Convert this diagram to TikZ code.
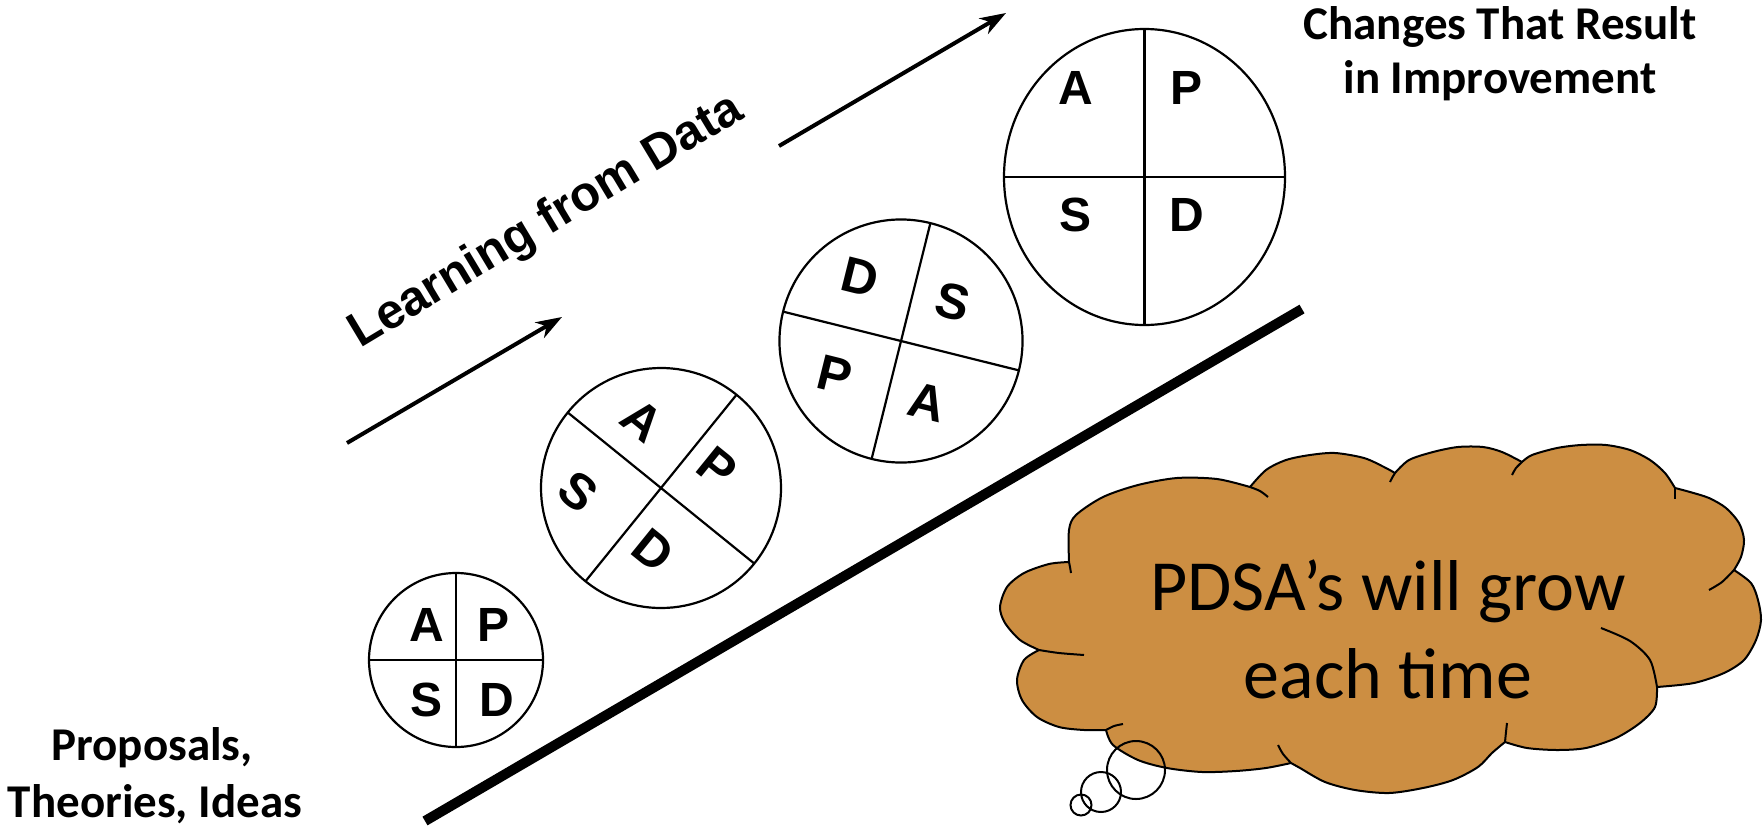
\documentclass[tikz,border=0pt]{standalone}
\usepackage{fontspec}
\setmainfont{Liberation Sans}
\newfontfamily\calfont{Carlito}
\usetikzlibrary{shapes.geometric,arrows.meta,calc}
\definecolor{cloudfill}{RGB}{204,142,66}
\begin{document}
\begin{tikzpicture}[x=1pt,y=-1pt,
  pdsa/.style={draw, circle, line width=2.2pt, inner sep=0pt, outer sep=0pt},
  cross/.style={line width=2.2pt},
  letter/.style={font=\fontsize{48}{48}\selectfont\bfseries, inner sep=0pt},
  bigletter/.style={font=\fontsize{50}{50}\selectfont\bfseries, inner sep=0pt},
  arr/.style={line width=4pt, -{Stealth[length=26pt,width=18pt,inset=8pt]}},
  lbl/.style={font=\calfont\bfseries\fontsize{47}{57}\selectfont, inner sep=0pt, anchor=base},
  cloudtext/.style={font=\calfont\fontsize{72}{88}\selectfont, inner sep=0pt, anchor=base},
  cloudline/.style={line width=2pt, line join=round},
  bubble/.style={draw, circle, line width=2pt, inner sep=0pt, outer sep=0pt}]
\useasboundingbox (0,0) rectangle (1763,833);

% circle 1
\node[pdsa, minimum size=174pt] (c1) at (456,660) {};
\draw[cross] (c1.north) -- (c1.south) (c1.west) -- (c1.east);
\node[letter] (c1a) at (427,625) {A};
\node[letter] (c1p) at (494,625) {P};
\node[letter] (c1s) at (427,700) {S};
\node[letter] (c1d) at (497,700) {D};

% circle 2
\node[pdsa, minimum size=240pt, rotate=-39] (c2) at (661,488) {};
\draw[cross] (c2.north) -- (c2.south) (c2.west) -- (c2.east);
\node[bigletter, rotate=-39] (c2a) at (642,420) {A};
\node[bigletter, rotate=-39] (c2p) at (717,468) {P};
\node[bigletter, rotate=-39] (c2s) at (578,492) {S};
\node[bigletter, rotate=-39] (c2d) at (653,550) {D};

% circle 3
\node[pdsa, minimum size=243pt, rotate=-14] (c3) at (901,341) {};
\draw[cross] (c3.north) -- (c3.south) (c3.west) -- (c3.east);
\node[bigletter, rotate=-14] (c3d) at (860,277) {D};
\node[bigletter, rotate=-14] (c3s) at (953,302) {S};
\node[bigletter, rotate=-14] (c3p) at (835,375) {P};
\node[bigletter, rotate=-14] (c3a) at (927,402) {A};

% circle 4
\node[draw, ellipse, line width=2.2pt, inner sep=0pt, outer sep=0pt, minimum width=281pt, minimum height=296pt] (c4) at (1144.5,177) {};
\draw[cross] (c4.north) -- (c4.south) (c4.west) -- (c4.east);
\node[letter] (c4a) at (1076,88) {A};
\node[letter] (c4p) at (1186,88) {P};
\node[letter] (c4s) at (1075,215) {S};
\node[letter] (c4d) at (1187,215) {D};

% thick base line
\coordinate (t1) at (425,821);
\coordinate (t2) at (1302,309);
\draw[line width=10pt] (t1) -- (t2);

% arrows
\coordinate (a1s) at (347,443);
\coordinate (a1e) at (562,317);
\coordinate (a2s) at (779,146);
\coordinate (a2e) at (1006,13);
\draw[arr] (a1s) -- (a1e);
\draw[arr] (a2s) -- (a2e);

\node[font=\fontsize{49}{49}\selectfont\bfseries, inner sep=0pt, anchor=base, rotate=31] (learn) at (553,233) {Learning from Data};

% labels
\node[lbl] (top1) at (1500,39) {Changes That Result};
\node[lbl] (top2) at (1500,93) {in Improvement};
\node[lbl] (bot1) at (152,760) {Proposals,};
\node[lbl] (bot2) at (155,817) {Theories, Ideas};

% cloud
\filldraw[fill=cloudfill, cloudline]
  plot[smooth] coordinates {(1069,562) (1069,530) (1076,515) (1103,497) (1138,485) (1177,478) (1217,479) (1250,487)}
  -- plot[smooth] coordinates {(1250,487) (1266,470) (1286,460) (1310,455) (1335,453) (1364,458) (1384,467) (1395,473)}
  -- plot[smooth] coordinates {(1395,473) (1409,460) (1433,452) (1458,447) (1483,447) (1502,452) (1522,462)}
  -- plot[smooth] coordinates {(1522,462) (1532,455) (1557,448) (1581,445) (1606,445) (1630,450) (1650,460) (1665,473) (1675,488)}
  -- plot[smooth] coordinates {(1675,488) (1690,492) (1709,498) (1726,508) (1739,523) (1744,540) (1741,557) (1734,570)}
  -- plot[smooth] coordinates {(1734,570) (1751,583) (1758,600) (1761,620) (1756,640) (1744,660) (1724,673) (1694,683) (1657,687)}
  -- plot[smooth] coordinates {(1657,687) (1655,707) (1640,723) (1616,738) (1586,748) (1557,750) (1527,748) (1505,742)}
  -- plot[smooth] coordinates {(1505,742) (1492,753) (1478,767) (1453,780) (1423,788) (1389,793) (1355,790) (1325,782) (1300,768) (1291,763)}
  -- plot[smooth] coordinates {(1291,763) (1266,768) (1236,771) (1202,772) (1167,768) (1138,760) (1113,745) (1106,730)}
  -- plot[smooth] coordinates {(1106,730) (1084,730) (1059,727) (1037,717) (1022,700) (1017,680) (1024,660) (1039,650)}
  -- plot[smooth] coordinates {(1039,650) (1020,640) (1005,623) (1000,607) (1007,587) (1024,573) (1049,564) (1069,562)}
  -- cycle;
% inner arcs of the cloud
\draw[cloudline] plot[smooth] coordinates {(1069,562) (1070,567) (1071,573)};
\draw[cloudline] plot[smooth] coordinates {(1250,487) (1260,491) (1268,497)};
\draw[cloudline] plot[smooth] coordinates {(1395,473) (1392,478) (1390,482)};
\draw[cloudline] plot[smooth] coordinates {(1522,462) (1516,468) (1512,475)};
\draw[cloudline] plot[smooth] coordinates {(1675,488) (1675,493) (1675,499)};
\draw[cloudline] plot[smooth] coordinates {(1734,570) (1722,582) (1709,590)};
\draw[cloudline] plot[smooth] coordinates {(1601,628) (1630,641) (1650,660) (1657,687)};
\draw[cloudline] plot[smooth] coordinates {(1505,742) (1506,732) (1507,723)};
\draw[cloudline] plot[smooth] coordinates {(1291,763) (1283,754) (1278,745)};
\draw[cloudline] plot[smooth] coordinates {(1106,730) (1114,726) (1123,724)};
\draw[cloudline] plot[smooth] coordinates {(1039,650) (1059,653) (1084,655)};

% thought bubbles
\node[bubble, minimum size=58pt] (b1) at (1136,770) {};
\node[bubble, minimum size=40pt] (b2) at (1101,792) {};
\node[bubble, minimum size=21pt] (b3) at (1081,805) {};

\node[cloudtext] (ct1) at (1388,610) {PDSA’s will grow};
\node[cloudtext] (ct2) at (1388,698) {each time};
\end{tikzpicture}
\end{document}
